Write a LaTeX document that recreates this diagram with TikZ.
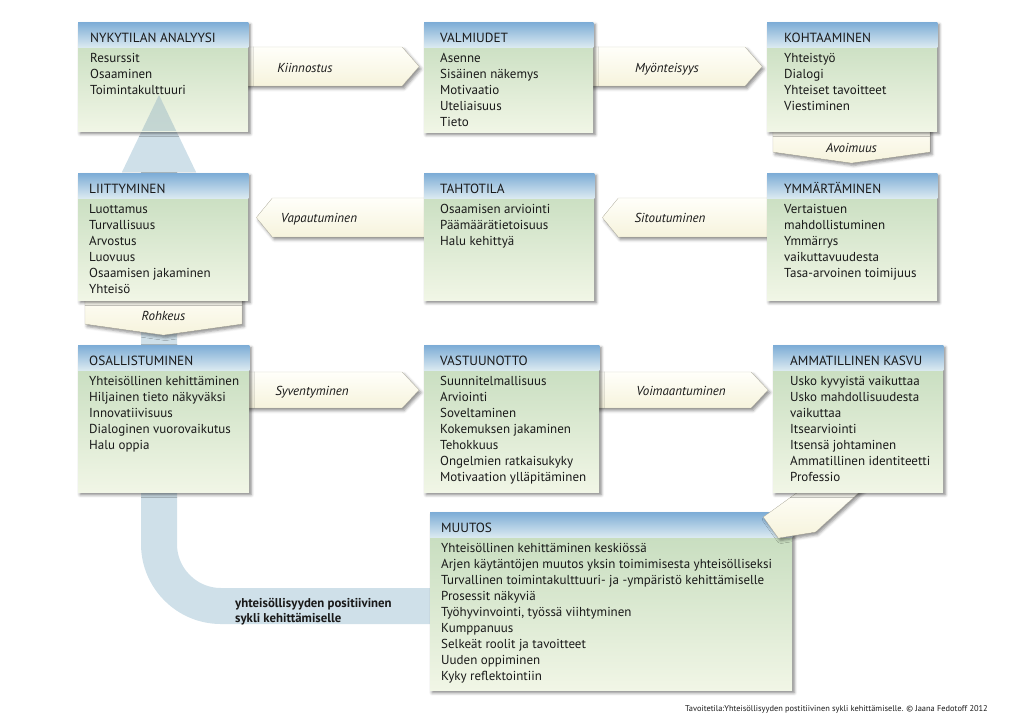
\documentclass[tikz,border=0pt]{standalone}
\usepackage{fontspec}
\setmainfont{PT Sans}
\usetikzlibrary{calc,shadows.blur}
\pgfdeclarelayer{bottom}
\pgfdeclarelayer{conn}
\pgfdeclarelayer{top}
\pgfsetlayers{bottom,conn,main,top}

\definecolor{hdtop}{RGB}{124,172,214}
\definecolor{hdbot}{RGB}{218,233,240}
\definecolor{bodytop}{RGB}{194,218,186}
\definecolor{bodybot}{RGB}{241,246,230}
\definecolor{conntop}{RGB}{255,255,250}
\definecolor{connbot}{RGB}{246,243,220}
\definecolor{connline}{RGB}{215,212,195}
\definecolor{bigarrowc}{RGB}{207,224,233}
\definecolor{headover}{RGB}{182,204,205}
\definecolor{txt}{RGB}{25,25,25}

\tikzset{
  boxbody/.style={rectangle, inner sep=0pt, anchor=north west, draw=none,
    top color=bodytop, bottom color=bodybot,
    blur shadow={shadow xshift=2pt, shadow yshift=-2.5pt, shadow blur radius=3pt, shadow opacity=50}},
  titletext/.style={font=\fontsize{13.3}{15}\selectfont, text=txt, inner sep=0pt, anchor=base west},
  itemtext/.style={font=\fontsize{13}{16}\selectfont, text=txt, inner sep=0pt, anchor=base west},
  connshape/.style={top color=conntop, bottom color=connbot, draw=connline, line width=0.3pt,
    blur shadow={shadow xshift=2pt, shadow yshift=-2.5pt, shadow blur radius=3pt, shadow opacity=45}},
  connlabel/.style={font=\itshape\fontsize{13}{15}\selectfont, text=txt, inner sep=0pt, anchor=base},
  cycletext/.style={font=\bfseries\fontsize{12.8}{15}\selectfont, text=txt, inner sep=0pt, anchor=base west},
  foottext/.style={font=\fontsize{8.4}{10}\selectfont, text=txt, inner sep=0pt, anchor=base east},
}

\newcommand{\itm}[1]{\hbox{#1}}

% name, x1, y1, x2, y2, text x, title, items
\newcommand{\pbox}[8]{%
  \node[boxbody, minimum width={(#4-#2)*1pt}, minimum height={(#5-#3)*1pt}] (#1) at (#2,#3) {};
  \shade[top color=hdtop, bottom color=hdbot] (#1.north west) rectangle ($(#1.north east)+(0,25)$);
  \node[titletext] (#1-title) at (#6,{#3+20}) {#7};
  \node[itemtext] (#1-items) at (#6,{#3+40}) {\vtop{\baselineskip=16pt\relax #8}};
}

% right connector: from, to, top, bottom, name, label x, label
\newcommand{\rconn}[7]{%
  \coordinate (#5-t) at (0,#3);
  \coordinate (#5-b) at (0,#4);
  \coordinate (#5-m) at (0,{(#3+#4)/2});
  \begin{pgfonlayer}{conn}
  \fill[connshape] ([xshift=-10pt]#1.east |- #5-t) -- ([xshift=-22pt]#2.west |- #5-t)
     -- ([xshift=-5pt]#2.west |- #5-m) -- ([xshift=-22pt]#2.west |- #5-b)
     -- ([xshift=-10pt]#1.east |- #5-b) -- cycle;
  \end{pgfonlayer}
  \node[connlabel] (#5) at (#6,{(#3+#4)/2+5.5}) {#7};
}
% left connector: from (right box), to (left box), top, bottom, name, label x, label
\newcommand{\lconn}[7]{%
  \coordinate (#5-t) at (0,#3);
  \coordinate (#5-b) at (0,#4);
  \coordinate (#5-m) at (0,{(#3+#4)/2});
  \begin{pgfonlayer}{conn}
  \fill[connshape] ([xshift=10pt]#1.west |- #5-t) -- ([xshift=24pt]#2.east |- #5-t)
     -- ([xshift=8pt]#2.east |- #5-m) -- ([xshift=24pt]#2.east |- #5-b)
     -- ([xshift=10pt]#1.west |- #5-b) -- cycle;
  \end{pgfonlayer}
  \node[connlabel] (#5) at (#6,{(#3+#4)/2+5}) {#7};
}
% down connector: from, to, left x, right x, name, label baseline, label
\newcommand{\dconn}[7]{%
  \coordinate (#5-l) at (#3,0);
  \coordinate (#5-r) at (#4,0);
  \coordinate (#5-c) at ({(#3+#4)/2},0);
  \begin{pgfonlayer}{conn}
  \fill[connshape] ([yshift=10pt]#5-l |- #1.south) -- ([yshift=10pt]#5-r |- #1.south)
     -- ([yshift=21pt]#5-r |- #2.north) -- ([yshift=10pt]#5-c |- #2.north)
     -- ([yshift=21pt]#5-l |- #2.north) -- cycle;
  \end{pgfonlayer}
  \node[connlabel] (#5) at ({(#3+#4)/2},#6) {#7};
}

\begin{document}
\begin{tikzpicture}[x=1pt,y=-1pt]
\path[use as bounding box] (0,0) rectangle (1024,724);
\coordinate (origin) at (0,0);

\pbox{b1}{78}{22}{248}{131}{90}{NYKYTILAN ANALYYSI}{\itm{Resurssit}\itm{Osaaminen}\itm{Toimintakulttuuri}}
\pbox{b2}{424}{22}{593}{132}{440}{VALMIUDET}{\itm{Asenne}\itm{Sisäinen näkemys}\itm{Motivaatio}\itm{Uteliaisuus}\itm{Tieto}}
\pbox{b3}{767}{22}{937}{131}{784}{KOHTAAMINEN}{\itm{Yhteistyö}\itm{Dialogi}\itm{Yhteiset tavoitteet}\itm{Viestiminen}}
\pbox{b4}{78}{173}{248}{300}{89}{LIITTYMINEN}{\itm{Luottamus}\itm{Turvallisuus}\itm{Arvostus}\itm{Luovuus}\itm{Osaamisen jakaminen}\itm{Yhteisö}}
\pbox{b5}{424}{173}{594}{300}{440}{TAHTOTILA}{\itm{Osaamisen arviointi}\itm{Päämäärätietoisuus}\itm{Halu kehittyä}}
\pbox{b6}{767}{173}{937}{300}{784}{YMMÄRTÄMINEN}{\itm{Vertaistuen}\itm{mahdollistuminen}\itm{Ymmärrys}\itm{vaikuttavuudesta}\itm{Tasa-arvoinen toimijuus}}
\pbox{b7}{78}{345}{249}{492}{89}{OSALLISTUMINEN}{\itm{Yhteisöllinen kehittäminen}\itm{Hiljainen tieto näkyväksi}\itm{Innovatiivisuus}\itm{Dialoginen vuorovaikutus}\itm{Halu oppia}}
\pbox{b8}{424}{345}{599}{492}{440}{VASTUUNOTTO}{\itm{Suunnitelmallisuus}\itm{Arviointi}\itm{Soveltaminen}\itm{Kokemuksen jakaminen}\itm{Tehokkuus}\itm{Ongelmien ratkaisukyky}\itm{Motivaation ylläpitäminen}}
\pbox{b10}{430}{512}{792}{690}{441}{MUUTOS}{\itm{Yhteisöllinen kehittäminen keskiössä}\itm{Arjen käytäntöjen muutos yksin toimimisesta yhteisölliseksi}\itm{Turvallinen toimintakulttuuri- ja -ympäristö kehittämiselle}\itm{Prosessit näkyviä}\itm{Työhyvinvointi, työssä viihtyminen}\itm{Kumppanuus}\itm{Selkeät roolit ja tavoitteet}\itm{Uuden oppiminen}\itm{Kyky reflektointiin}}

% diagonal connector from AMMATILLINEN KASVU to MUUTOS (lies over MUUTOS)
\coordinate (dA) at (805,487);
\coordinate (dB) at (865,487);
\fill[connshape] (dA) -- (dB) -- ($(b10.north east)+(23,20)$) -- ($(b10.north east)+(-14,26)$) -- ($(b10.north east)+(-29,5)$) -- cycle;

\pbox{b9}{773}{345}{943}{492}{790}{AMMATILLINEN KASVU}{\itm{Usko kyvyistä vaikuttaa}\itm{Usko mahdollisuudesta}\itm{vaikuttaa}\itm{Itsearviointi}\itm{Itsensä johtaminen}\itm{Ammatillinen identiteetti}\itm{Professio}}

% connectors
\rconn{b1}{b2}{47}{86}{kii}{305}{Kiinnostus}
\rconn{b2}{b3}{47}{86}{myo}{667}{Myönteisyys}
\dconn{b3}{b6}{773}{930}{avo}{152}{Avoimuus}
\lconn{b6}{b5}{198}{237}{sit}{670}{Sitoutuminen}
\lconn{b5}{b4}{198}{237}{vap}{319}{Vapautuminen}
\dconn{b4}{b7}{85}{242}{roh}{320}{Rohkeus}
\rconn{b7}{b8}{372}{408}{syv}{312}{Syventyminen}
\rconn{b8}{b9}{372}{408}{voi}{681}{Voimaantuminen}

% big cycle arrow
\coordinate (c606) at (0,606);
\begin{pgfonlayer}{bottom}
  \draw[bigarrowc, line width=36pt, rounded corners=62pt] (159,168) -- (159,606) -- ([xshift=10pt]b10.west |- c606);
  \fill[bigarrowc] (122,172) -- (159,95) -- (196,172) -- cycle;
\end{pgfonlayer}
% tip of the arrowhead, seen through the first box
\fill[headover, fill opacity=0.75] (159,95) -- (176.3,131) -- (141.7,131) -- cycle;

\node[cycletext] (cyc) at (235,607) {\vtop{\baselineskip=15pt\relax \itm{yhteisöllisyyden positiivinen}\itm{sykli kehittämiselle}}};

\node[foottext] (foot) at (988,711) {Tavoitetila:Yhteisöllisyyden postitiivinen sykli kehittämiselle. © Jaana Fedotoff 2012};
\end{tikzpicture}
\end{document}
